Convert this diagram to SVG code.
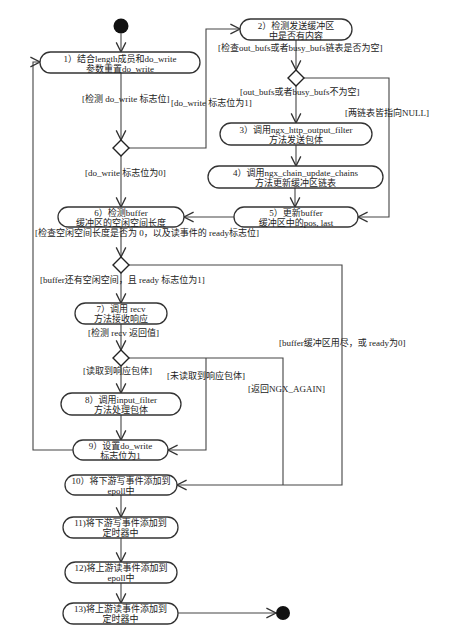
<svg xmlns="http://www.w3.org/2000/svg" width="466" height="630" viewBox="0 0 466 630">
<defs>
<marker id="arr" markerUnits="userSpaceOnUse" markerWidth="12" markerHeight="12" refX="8" refY="4" orient="auto" viewBox="-1 -1 10 10">
<path d="M0,0 L8,4 L0,8" fill="none" stroke="#333" stroke-width="1.1"/>
</marker>
</defs>
<style>
.n rect{fill:#fff;stroke:#333;stroke-width:1.3}
.n text,.lb{font-family:"Liberation Serif","Noto Sans CJK SC",serif;font-size:9px;fill:#222}
.n text{text-anchor:middle}
.c path{fill:none;stroke:#444;stroke-width:1.1}
.c .a{marker-end:url(#arr)}
.d{fill:#fff;stroke:#222;stroke-width:1.4}
</style>
<rect width="466" height="630" fill="#fff"/>
<g id="connectors" class="c">
<path class="a" d="M121,33.5 V52"/>
<path class="a" d="M121,73 V140"/>
<path class="a" d="M129,148 H206 V29 H240"/>
<path class="a" d="M121,156 V207"/>
<path class="a" d="M296,40 V70"/>
<path class="a" d="M304,78 H389 V217 H358"/>
<path class="a" d="M296,86 V123"/>
<path class="a" d="M296,145 V166"/>
<path class="a" d="M295,188 V207"/>
<path class="a" d="M234,217 H184"/>
<path class="a" d="M121,227 V257"/>
<path class="a" d="M129,265 H342 V485 H177"/>
<path class="a" d="M121,273 V303"/>
<path class="a" d="M121,324 V350"/>
<path d="M129,358 H283 V485"/>
<path class="a" d="M206,358 V450 H168"/>
<path class="a" d="M121,366 V393"/>
<path class="a" d="M121,415 V440"/>
<path class="a" d="M73,450 H33 V62 H40"/>
<path class="a" d="M121,495 V517"/>
<path class="a" d="M121,538 V562"/>
<path class="a" d="M121,583 V603"/>
<path class="a" d="M178,613 H276"/>
</g>
<g id="start"><circle cx="121" cy="26" r="7.5" fill="#111"/></g>
<g id="end"><circle cx="283" cy="613" r="7" fill="#111"/></g>
<g id="d1"><path class="d" d="M121,140 L129,148 L121,156 L113,148 Z"/></g>
<g id="d2"><path class="d" d="M296,70 L304,78 L296,86 L288,78 Z"/></g>
<g id="d3"><path class="d" d="M121,257 L129,265 L121,273 L113,265 Z"/></g>
<g id="d4"><path class="d" d="M121,350 L129,358 L121,366 L113,358 Z"/></g>
<g id="n1" class="n"><rect x="40" y="52" width="160" height="21" rx="10.5"/><text x="120" y="61.5">1）结合length成员和do_write</text><text x="120" y="71.5">参数重置do_write</text></g>
<g id="n2" class="n"><rect x="240" y="19" width="112" height="21" rx="10.5"/><text x="296" y="28.5">2）检测发送缓冲区</text><text x="296" y="38.5">中是否有内容</text></g>
<g id="n3" class="n"><rect x="220" y="123" width="152" height="22" rx="11"/><text x="296" y="132.5">3）调用ngx_http_output_filter</text><text x="296" y="142.5">方法发送包体</text></g>
<g id="n4" class="n"><rect x="208" y="166" width="175" height="22" rx="11"/><text x="295.5" y="175.5">4）调用ngx_chain_update_chains</text><text x="295.5" y="185.5">方法更新缓冲区链表</text></g>
<g id="n5" class="n"><rect x="234" y="207" width="124" height="20" rx="10"/><text x="296" y="215.5">5）更新buffer</text><text x="296" y="225.5">缓冲区中的pos, last</text></g>
<g id="n6" class="n"><rect x="58" y="207" width="126" height="20" rx="10"/><text x="121" y="215.5">6）检测buffer</text><text x="121" y="225.5">缓冲区的空闲空间长度</text></g>
<g id="n7" class="n"><rect x="75" y="303" width="92" height="21" rx="10.5"/><text x="121" y="312">7）调用 recv</text><text x="121" y="322">方法接收响应</text></g>
<g id="n8" class="n"><rect x="61" y="393" width="120" height="22" rx="11"/><text x="121" y="402.5">8）调用input_filter</text><text x="121" y="412.5">方法处理包体</text></g>
<g id="n9" class="n"><rect x="73" y="440" width="95" height="20" rx="10"/><text x="120.5" y="448.5">9）设置do_write</text><text x="120.5" y="458.5">标志位为1</text></g>
<g id="n10" class="n"><rect x="65" y="475" width="112" height="20" rx="10"/><text x="121" y="483.5">10）将下游写事件添加到</text><text x="121" y="493.5">epoll中</text></g>
<g id="n11" class="n"><rect x="63" y="517" width="115" height="21" rx="10.5"/><text x="120.5" y="526">11)将下游写事件添加到</text><text x="120.5" y="536">定时器中</text></g>
<g id="n12" class="n"><rect x="65" y="562" width="112" height="21" rx="10.5"/><text x="121" y="571">12)将上游读事件添加到</text><text x="121" y="581">epoll中</text></g>
<g id="n13" class="n"><rect x="63" y="603" width="115" height="21" rx="10.5"/><text x="120.5" y="612">13)将上游读事件添加到</text><text x="120.5" y="622">定时器中</text></g>
<g id="labels">
<text class="lb" x="82" y="102">[检测 do_write 标志位]</text>
<text class="lb" x="171" y="106">[do_write 标志位为1]</text>
<text class="lb" x="218" y="51">[检查out_bufs或者busy_bufs链表是否为空]</text>
<text class="lb" x="240" y="95">[out_bufs或者busy_bufs不为空]</text>
<text class="lb" x="345" y="116">[两链表皆指向NULL]</text>
<text class="lb" x="85" y="176">[do_write 标志位为0]</text>
<text class="lb" x="35" y="236">[检查空闲空间长度是否为 0，以及读事件的 ready标志位]</text>
<text class="lb" x="40" y="283">[buffer还有空闲空间，且 ready 标志位为1]</text>
<text class="lb" x="88" y="336">[检测 recv 返回值]</text>
<text class="lb" x="279" y="346">[buffer缓冲区用尽，或 ready为0]</text>
<text class="lb" x="83" y="374">[读取到响应包体]</text>
<text class="lb" x="167" y="379">[未读取到响应包体]</text>
<text class="lb" x="248" y="392">[返回NGX_AGAIN]</text>
</g>
</svg>
